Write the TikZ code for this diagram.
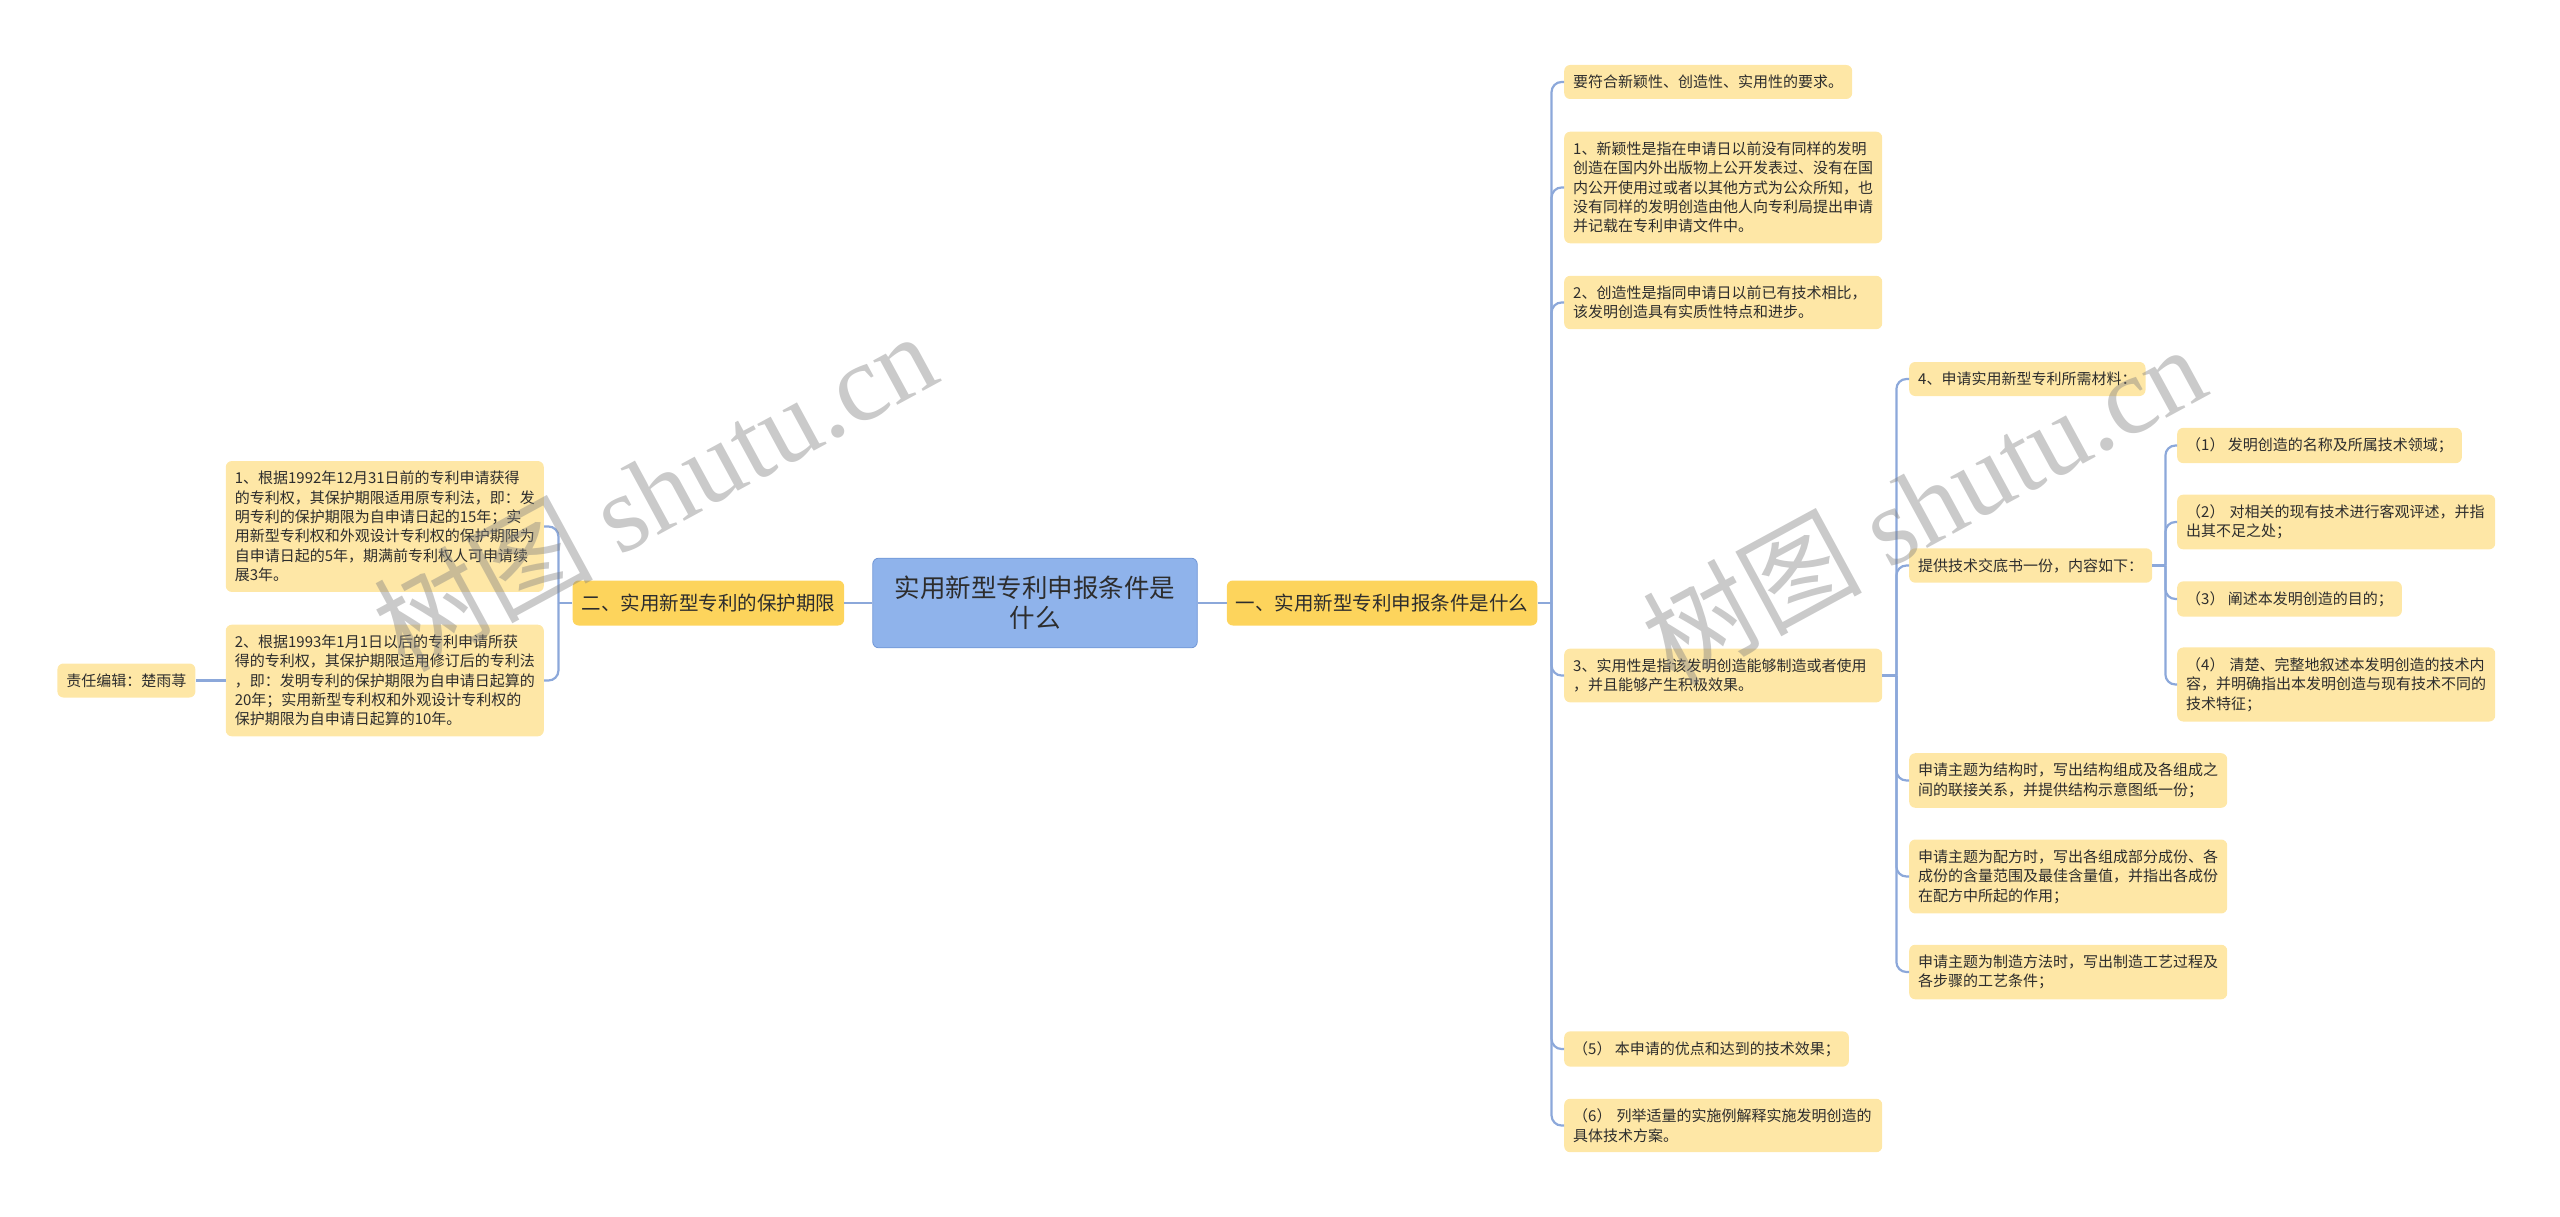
\documentclass[tikz,border=0pt]{standalone}
\usepackage{fontspec}
\setmainfont{Noto Sans CJK SC}
\newfontfamily\wmlatin{Liberation Serif}
\usepackage{xcolor}
\usepackage{tikz}
\usetikzlibrary{positioning}
\definecolor{mapblue}{RGB}{143,179,235}
\definecolor{mapblueline}{RGB}{112,150,214}
\definecolor{mapgold}{RGB}{253,212,92}
\definecolor{mapcream}{RGB}{254,231,166}
\definecolor{maplink}{RGB}{140,168,218}
\definecolor{maptext}{RGB}{45,45,45}

\begin{document}
\begin{tikzpicture}[
    x=1pt, y=-1pt,
    topic/.style={rectangle, draw=mapblueline, line width=0.8pt, fill=mapblue, rounded corners=6pt, align=center, text=maptext, inner xsep=22pt, inner ysep=18pt, font=\fontsize{25.5}{30}\selectfont},
    branch/.style={rectangle, fill=mapgold, rounded corners=6pt, text=maptext, inner xsep=9pt, inner ysep=6pt, minimum height=45pt, font=\fontsize{19.5}{23}\selectfont},
    leaf/.style={rectangle, fill=mapcream, rounded corners=6pt, align=left, text=maptext, inner xsep=9pt, inner ysep=10pt, minimum height=34pt, font=\fontsize{15}{19.4}\selectfont},
    leafw/.style={leaf, text width=300pt},
    link/.style={draw=maplink, line width=2.2pt, rounded corners=10pt},
    wmark/.style={rotate=28.5, text=gray, opacity=0.42, font=\fontsize{110}{110}\selectfont}
]
    \useasboundingbox (0,0) rectangle (2560,1217);

    % Root and main branches
    \node[topic] (root) at (1035,603) {实用新型专利申报条件是\\什么};
    \node[branch, right=29pt of root] (one) {一、实用新型专利申报条件是什么};
    \node[branch, left=28pt of root] (two) {二、实用新型专利的保护期限};

    % Protection period
    \node[leafw, anchor=east] (l1) at (544,526.5) {1、根据1992年12月31日前的专利申请获得\\的专利权，其保护期限适用原专利法，即：发\\明专利的保护期限为自申请日起的15年；实\\用新型专利权和外观设计专利权的保护期限为\\自申请日起的5年，期满前专利权人可申请续\\展3年。};
    \node[leafw, anchor=east] (l2) at (544,680.5) {2、根据1993年1月1日以后的专利申请所获\\得的专利权，其保护期限适用修订后的专利法\\，即：发明专利的保护期限为自申请日起算的\\20年；实用新型专利权和外观设计专利权的\\保护期限为自申请日起算的10年。};
    \node[leaf, left=30pt of l2] (edit) {责任编辑：楚雨荨};

    % Conditions
    \node[leaf, anchor=west] (a0) at (1564,82) {要符合新颖性、创造性、实用性的要求。};
    \node[leafw, anchor=west] (a1) at (1564,187.5) {1、新颖性是指在申请日以前没有同样的发明\\创造在国内外出版物上公开发表过、没有在国\\内公开使用过或者以其他方式为公众所知，也\\没有同样的发明创造由他人向专利局提出申请\\并记载在专利申请文件中。};
    \node[leafw, anchor=west] (a2) at (1564,302.5) {2、创造性是指同申请日以前已有技术相比，\\该发明创造具有实质性特点和进步。};
    \node[leafw, anchor=west] (a3) at (1564,675.5) {3、实用性是指该发明创造能够制造或者使用\\，并且能够产生积极效果。};
    \node[leaf, anchor=west] (a4) at (1564,1049) {（5） 本申请的优点和达到的技术效果；};
    \node[leafw, anchor=west] (a5) at (1564,1125.5) {（6） 列举适量的实施例解释实施发明创造的\\具体技术方案。};

    % Materials
    \node[leaf, anchor=west] (b0) at (1909,379) {4、申请实用新型专利所需材料：};
    \node[leaf, anchor=west] (b1) at (1909,565.5) {提供技术交底书一份，内容如下：};
    \node[leafw, anchor=west] (b2) at (1909,780.5) {申请主题为结构时，写出结构组成及各组成之\\间的联接关系，并提供结构示意图纸一份；};
    \node[leafw, anchor=west] (b3) at (1909,876.5) {申请主题为配方时，写出各组成部分成份、各\\成份的含量范围及最佳含量值，并指出各成份\\在配方中所起的作用；};
    \node[leafw, anchor=west] (b4) at (1909,972) {申请主题为制造方法时，写出制造工艺过程及\\各步骤的工艺条件；};

    % Disclosure contents
    \node[leaf, anchor=west] (c0) at (2177,445.5) {（1） 发明创造的名称及所属技术领域；};
    \node[leafw, anchor=west] (c1) at (2177,522) {（2） 对相关的现有技术进行客观评述，并指\\出其不足之处；};
    \node[leaf, anchor=west] (c2) at (2177,599) {（3） 阐述本发明创造的目的；};
    \node[leafw, anchor=west] (c3) at (2177,684.5) {（4） 清楚、完整地叙述本发明创造的技术内\\容，并明确指出本发明创造与现有技术不同的\\技术特征；};

    % Junctions
    \coordinate[right=14pt of one.east] (j1);
    \coordinate[right=14pt of a3.east] (j3);
    \coordinate[right=13pt of b1.east] (j4);
    \coordinate[left=14pt of two.west] (jl);

    \draw[link] (root.east) -- (one.west);
    \draw[link] (root.west) -- (two.east);
    \draw[link] (one.east) -- (j1);
    \draw[link] (j1) |- (a0.west);
    \draw[link] (j1) |- (a1.west);
    \draw[link] (j1) |- (a2.west);
    \draw[link] (j1) |- (a3.west);
    \draw[link] (j1) |- (a4.west);
    \draw[link] (j1) |- (a5.west);
    \draw[link] (a3.east) -- (j3);
    \draw[link] (j3) |- (b0.west);
    \draw[link] (j3) |- (b1.west);
    \draw[link] (j3) |- (b2.west);
    \draw[link] (j3) |- (b3.west);
    \draw[link] (j3) |- (b4.west);
    \draw[link] (b1.east) -- (j4);
    \draw[link] (j4) |- (c0.west);
    \draw[link] (j4) |- (c1.west);
    \draw[link] (j4) |- (c2.west);
    \draw[link] (j4) |- (c3.west);
    \draw[link] (two.west) -- (jl);
    \draw[link] (jl) |- (l1.east);
    \draw[link] (jl) |- (l2.east);
    \draw[link] (l2.west) -- (edit.east);

    % Watermarks
    \node[wmark] (wm1) at (654,490) {树图 {\wmlatin shutu.cn}};
    \node[wmark] (wm2) at (1923,503) {树图 {\wmlatin shutu.cn}};
\end{tikzpicture}
\end{document}
